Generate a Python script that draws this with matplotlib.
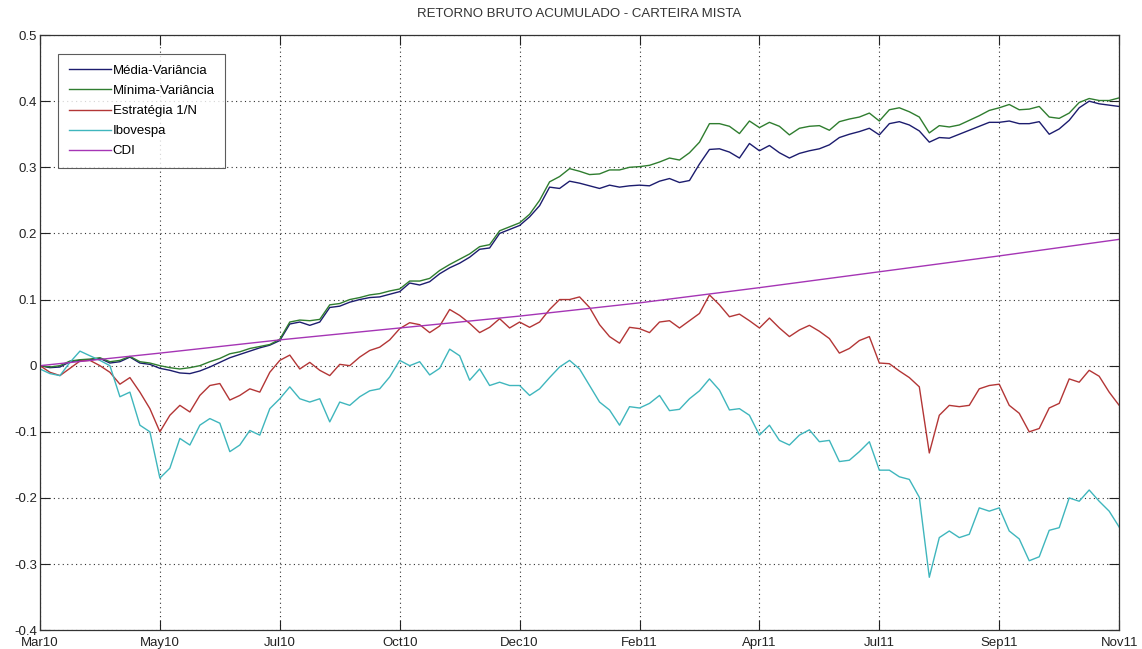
import numpy as np
import matplotlib.pyplot as plt

# Retorno bruto acumulado das carteiras (amostrado a cada 4 pregões)
dias = np.arange(0, 433, 4)

media_var = [
    0.0, -0.003, -0.002, 0.006, 0.008, 0.009, 0.011, 0.004, 0.006, 0.013,
    0.004, 0.002, -0.004, -0.007, -0.011, -0.012, -0.008, -0.002, 0.005, 0.012,
    0.017, 0.022, 0.027, 0.031, 0.038, 0.063, 0.066, 0.061, 0.066, 0.088,
    0.09, 0.096, 0.1, 0.103, 0.104, 0.108, 0.112, 0.125, 0.122, 0.127,
    0.139, 0.148, 0.155, 0.164, 0.176, 0.178, 0.2, 0.206, 0.212, 0.225,
    0.242, 0.27, 0.268, 0.279, 0.276, 0.272, 0.268, 0.273, 0.27, 0.272,
    0.273, 0.272, 0.279, 0.283, 0.277, 0.28, 0.305, 0.327, 0.328, 0.323,
    0.314, 0.336, 0.325, 0.333, 0.322, 0.314, 0.321, 0.325, 0.328, 0.334,
    0.345, 0.35, 0.354, 0.359, 0.349, 0.366, 0.369, 0.364, 0.355, 0.338,
    0.345, 0.344, 0.35, 0.356, 0.362, 0.368, 0.368, 0.37, 0.366, 0.366,
    0.369, 0.35, 0.358, 0.371, 0.39, 0.4, 0.396, 0.394, 0.392,
]
minima_var = [
    0.0, -0.002, 0.0, 0.007, 0.009, 0.01, 0.012, 0.006, 0.008, 0.014,
    0.006, 0.004, 0.0, -0.003, -0.005, -0.003, 0.0, 0.006, 0.011, 0.018,
    0.021, 0.026, 0.029, 0.032, 0.04, 0.066, 0.069, 0.068, 0.07, 0.092,
    0.094, 0.1, 0.103, 0.107, 0.109, 0.113, 0.116, 0.128, 0.128, 0.132,
    0.144, 0.153, 0.161, 0.169, 0.18, 0.183, 0.204, 0.21, 0.216, 0.229,
    0.25, 0.278, 0.286, 0.298, 0.294, 0.289, 0.29, 0.296, 0.296, 0.3,
    0.301, 0.303, 0.308, 0.314, 0.311, 0.322, 0.338, 0.366, 0.366, 0.362,
    0.351, 0.37, 0.36, 0.368, 0.362, 0.349, 0.359, 0.362, 0.363, 0.356,
    0.369, 0.373, 0.376, 0.382, 0.37, 0.387, 0.39, 0.384, 0.376, 0.352,
    0.363, 0.361, 0.364, 0.371, 0.378, 0.386, 0.39, 0.395, 0.387, 0.388,
    0.392, 0.376, 0.374, 0.382, 0.398, 0.404, 0.401, 0.401, 0.405,
]
estrategia_1n = [
    0.0, -0.01, -0.015, -0.004, 0.007, 0.008, 0.0, -0.01, -0.028, -0.018,
    -0.04, -0.065, -0.1, -0.075, -0.06, -0.07, -0.045, -0.03, -0.027, -0.052,
    -0.045, -0.035, -0.04, -0.01, 0.008, 0.016, -0.005, 0.005, -0.007, -0.015,
    0.002, 0.0, 0.013, 0.023, 0.028, 0.039, 0.056, 0.065, 0.062, 0.05,
    0.06, 0.085, 0.076, 0.064, 0.05, 0.058, 0.071, 0.057, 0.066, 0.058,
    0.066, 0.085, 0.1, 0.1, 0.104, 0.088, 0.062, 0.044, 0.034, 0.058,
    0.056, 0.05, 0.066, 0.068, 0.057, 0.068, 0.079, 0.107, 0.092, 0.074,
    0.078, 0.068, 0.057, 0.072, 0.057, 0.044, 0.054, 0.061, 0.052, 0.041,
    0.019, 0.026, 0.038, 0.044, 0.004, 0.003, -0.008, -0.018, -0.032, -0.132,
    -0.075, -0.06, -0.062, -0.06, -0.035, -0.03, -0.028, -0.06, -0.072, -0.1,
    -0.095, -0.064, -0.057, -0.02, -0.025, -0.007, -0.016, -0.04, -0.06,
]
ibovespa = [
    -0.005, -0.012, -0.015, 0.005, 0.022, 0.015, 0.008, 0.0, -0.047, -0.04,
    -0.09, -0.1, -0.17, -0.155, -0.11, -0.12, -0.09, -0.08, -0.087, -0.13,
    -0.12, -0.098, -0.105, -0.065, -0.05, -0.032, -0.05, -0.055, -0.05, -0.085,
    -0.055, -0.06, -0.047, -0.038, -0.035, -0.017, 0.008, 0.0, 0.006, -0.014,
    -0.004, 0.025, 0.015, -0.022, -0.005, -0.03, -0.025, -0.03, -0.03, -0.045,
    -0.035, -0.018, -0.002, 0.008, -0.005, -0.03, -0.055, -0.067, -0.09, -0.062,
    -0.064, -0.057, -0.045, -0.068, -0.066, -0.05, -0.038, -0.02, -0.037, -0.067,
    -0.065, -0.075, -0.105, -0.09, -0.113, -0.12, -0.105, -0.097, -0.115, -0.113,
    -0.145, -0.143, -0.13, -0.115, -0.158, -0.158, -0.168, -0.172, -0.199, -0.32,
    -0.26, -0.25, -0.26, -0.255, -0.215, -0.22, -0.215, -0.25, -0.262, -0.295,
    -0.289, -0.249, -0.245, -0.2, -0.205, -0.188, -0.205, -0.22, -0.244,
]
cdi_dias = np.arange(0, 433, 48)
cdi = [0.0, 0.019, 0.039, 0.057, 0.075, 0.095, 0.118, 0.142, 0.166, 0.191]

meses = ['Mar10', 'May10', 'Jul10', 'Oct10', 'Dec10', 'Feb11', 'Apr11',
         'Jul11', 'Sep11', 'Nov11']
pos_meses = np.arange(0, 433, 48)

plt.rcParams['font.family'] = ['Liberation Sans', 'DejaVu Sans']

fig = plt.figure(figsize=(11.42, 6.49), dpi=100)
ax = fig.add_axes([0.035, 0.029, 0.945, 0.917])

ax.plot(dias, media_var, color='#1c1c6e', lw=1.0, label='Média-Variância')
ax.plot(dias, minima_var, color='#2f7d2f', lw=1.0, label='Mínima-Variância')
ax.plot(dias, estrategia_1n, color='#b33636', lw=1.0, label='Estratégia 1/N')
ax.plot(dias, ibovespa, color='#3fb6bd', lw=1.0, label='Ibovespa')
ax.plot(cdi_dias, cdi, color='#a535b5', lw=1.0, label='CDI')

ax.set_xlim(0, 432)
ax.set_ylim(-0.4, 0.5)
ax.set_xticks(pos_meses)
ax.set_xticklabels(meses)
ax.set_yticks(np.arange(-0.4, 0.51, 0.1))
ax.set_yticklabels(['-0.4', '-0.3', '-0.2', '-0.1', '0', '0.1', '0.2', '0.3', '0.4', '0.5'])

# estilo de eixo tipo MATLAB: ticks para dentro, grade pontilhada
ax.tick_params(direction='in', length=7, width=0.8, top=True, right=True,
               labelsize=9.5, colors='#222222', pad=2)
ax.tick_params(axis='x', pad=5)
ax.grid(True, linestyle=(0, (1, 3)), color='#333333', linewidth=0.8)
for s in ax.spines.values():
    s.set_color('#333333')
    s.set_linewidth(0.9)

ax.set_title('RETORNO BRUTO ACUMULADO - CARTEIRA MISTA', fontsize=9.5,
             color='#333333', pad=13)

leg = ax.legend(loc='upper left', bbox_to_anchor=(0.0167, 0.968), fontsize=9.5,
                frameon=True, fancybox=False, handlelength=3.2,
                handletextpad=0.15, labelspacing=0.6, borderpad=0.8,
                borderaxespad=0)
leg.get_frame().set_edgecolor('#333333')
leg.get_frame().set_linewidth(0.8)

fig.savefig('out.png', dpi=100, facecolor='white')
